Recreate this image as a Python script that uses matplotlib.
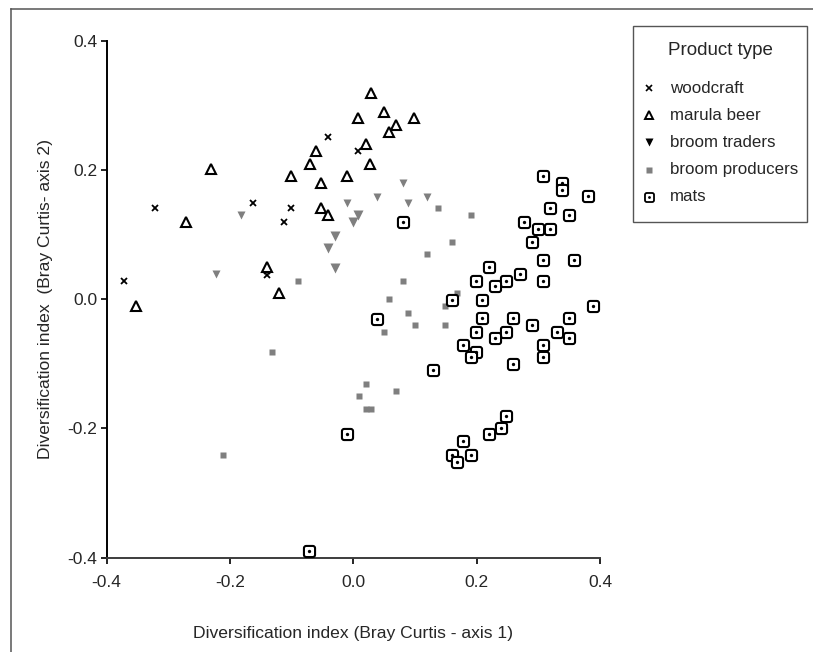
import matplotlib
matplotlib.use("Agg")
import matplotlib.pyplot as plt
from matplotlib.path import Path
from matplotlib.lines import Line2D
from matplotlib.patches import Rectangle

plt.rcParams['font.family'] = ['Liberation Sans', 'DejaVu Sans']

# ---- ordination scores (Bray Curtis axis 1, axis 2) per product type ----
woodcraft_x = [-0.0405, 0.0082, -0.3219, -0.1620, -0.1009, -0.1128, -0.1403, -0.1403, -0.3716]
woodcraft_y = [0.2505, 0.2298, 0.1407, 0.1484, 0.1407, 0.1195, 0.0444, 0.0382, 0.0282]

marula_x = [0.0283, 0.0498, 0.0082, 0.0989, 0.0693, 0.0584, 0.0202, -0.0604, -0.0706, 0.0276,
            -0.2306, -0.1014, -0.0101, -0.0518, -0.0518, -0.0405, -0.2716, -0.1403, -0.1204, -0.3517]
marula_y = [0.3186, 0.2901, 0.2799, 0.2799, 0.2691, 0.2592, 0.2402, 0.2298, 0.2092, 0.2092,
            0.2010, 0.1906, 0.1906, 0.1803, 0.1416, 0.1308, 0.1199, 0.0498, 0.0101, -0.0105]

traders_x = [0.0801, 0.0385, -0.0101, 0.0882, 0.1190, -0.1812, 0.0085, 0.0001, -0.0296, -0.0405, -0.0296, -0.2225]
traders_y = [0.1793, 0.1586, 0.1484, 0.1484, 0.1586, 0.1300, 0.1303, 0.1195, 0.0978, 0.0797, 0.0483, 0.0385]

producers_x = [-0.0901, 0.0801, 0.0584, 0.0882, 0.1379, 0.1904, 0.1605, 0.1190, 0.1682, 0.1492,
               0.0996, 0.1492, 0.0498, -0.1317, 0.0202, 0.0693, 0.0088, 0.0202, 0.0283, -0.2116]
producers_y = [0.0282, 0.0282, -0.0002, -0.0209, 0.1407, 0.1303, 0.0885, 0.0699, 0.0101, -0.0105,
               -0.0395, -0.0395, -0.0503, -0.0817, -0.1312, -0.1413, -0.1498, -0.1704, -0.1704, -0.2406]

mats_x = [0.3081, 0.3384, 0.3384, 0.3800, 0.3194, 0.3502, 0.2776, 0.3003, 0.3194, 0.2893,
          0.3081, 0.3578, 0.2205, 0.2698, 0.1985, 0.2476, 0.2290, 0.3081, 0.1601, 0.2090,
          0.3886, 0.0385, 0.2090, 0.2589, 0.3502, 0.2894, 0.1982, 0.2479, 0.3299, 0.2290,
          0.3502, 0.1787, 0.3081, 0.1986, 0.1904, 0.3084, 0.2589, 0.1293, 0.0801, -0.0106,
          0.2481, 0.2395, 0.2205, 0.1784, 0.1596, 0.1687, 0.1904, -0.0713]
mats_y = [0.1906, 0.1793, 0.1690, 0.1592, 0.1407, 0.1303, 0.1195, 0.1086, 0.1086, 0.0885,
          0.0602, 0.0602, 0.0494, 0.0385, 0.0286, 0.0286, 0.0209, 0.0286, -0.0005, -0.0005,
          -0.0105, -0.0299, -0.0291, -0.0291, -0.0286, -0.0395, -0.0500, -0.0500, -0.0500, -0.0603,
          -0.0605, -0.0709, -0.0706, -0.0812, -0.0890, -0.0890, -0.0998, -0.1088, 0.1190, -0.2091,
          -0.1807, -0.1988, -0.2091, -0.2194, -0.2411, -0.2515, -0.2411, -0.3901]

# larger symbols for the stacked broom-trader scores
traders_large = [False, False, False, False, False, False, True, True, True, True, True, False]

ticks = [-0.4, -0.2, 0.0, 0.2, 0.4]
tick_labels = ['-0.4', '-0.2', '0.0', '0.2', '0.4']
legend_labels = ['woodcraft', 'marula beer', 'broom traders', 'broom producers', 'mats']

W, H = 813, 652
GREY = '#7f7f7f'


def rounded_square(r=0.4):
    verts = [(-1 + r, -1), (1 - r, -1), (1, -1), (1, -1 + r), (1, 1 - r), (1, 1), (1 - r, 1),
             (-1 + r, 1), (-1, 1), (-1, 1 - r), (-1, -1 + r), (-1, -1), (-1 + r, -1), (-1 + r, -1)]
    codes = [Path.MOVETO, Path.LINETO, Path.CURVE3, Path.CURVE3, Path.LINETO, Path.CURVE3, Path.CURVE3,
             Path.LINETO, Path.CURVE3, Path.CURVE3, Path.LINETO, Path.CURVE3, Path.CURVE3, Path.CLOSEPOLY]
    return Path(verts, codes)


MAT = rounded_square()


def fx(px):
    return px / W


def fy(py):
    return 1 - py / H


fig = plt.figure(figsize=(W / 100, H / 100), dpi=100)
ax = fig.add_axes([fx(106.5), fy(557.7), (600 - 106.5) / W, (557.7 - 40.7) / H])

# ---- scatter layers ----
ax.plot(producers_x, producers_y, ls='none', marker='s', ms=5.0, mfc=GREY, mec='none', clip_on=False, zorder=3)
small_x = [x for x, b in zip(traders_x, traders_large) if not b]
small_y = [y for y, b in zip(traders_y, traders_large) if not b]
big_x = [x for x, b in zip(traders_x, traders_large) if b]
big_y = [y for y, b in zip(traders_y, traders_large) if b]
ax.plot(small_x, small_y, ls='none', marker='v', ms=5.5, mfc=GREY, mec='none', clip_on=False, zorder=3)
ax.plot(big_x, big_y, ls='none', marker='v', ms=7.5, mfc=GREY, mec='none', clip_on=False, zorder=3)
ax.plot(woodcraft_x, woodcraft_y, ls='none', marker='x', ms=5.0, mec='black', mew=1.3, clip_on=False, zorder=4)
ax.plot(marula_x, marula_y, ls='none', marker='^', ms=7.5, mfc='white', mec='black', mew=1.5, clip_on=False, zorder=4)
ax.plot(mats_x, mats_y, ls='none', marker=MAT, ms=8.0, mfc='white', mec='black', mew=1.5, clip_on=False, zorder=5)
ax.plot(mats_x, mats_y, ls='none', marker='o', ms=2.4, mfc='black', mec='none', clip_on=False, zorder=6)

# ---- axes styling ----
ax.set_xlim(-0.4, 0.4)
ax.set_ylim(-0.4, 0.4)
ax.set_xticks(ticks)
ax.set_xticklabels(tick_labels)
ax.set_yticks(ticks)
ax.set_yticklabels(tick_labels)
for side in ('top', 'right'):
    ax.spines[side].set_visible(False)
ax.spines['left'].set_linewidth(1.4)
ax.spines['left'].set_color('black')
ax.spines['bottom'].set_linewidth(1.4)
ax.spines['bottom'].set_color('#3c3c3c')
ax.tick_params(axis='both', direction='out', length=4.3, width=1.2, colors='black',
               labelcolor='#262626', labelsize=12.5)
ax.tick_params(axis='x', pad=8.0)
ax.tick_params(axis='y', pad=2.4)

ax.set_xlabel('Diversification index (Bray Curtis - axis 1)', fontsize=12.6, color='#262626')
ax.set_ylabel('Diversification index  (Bray Curtis- axis 2)', fontsize=12.6, color='#262626')
ax.xaxis.set_label_coords(0.5, -0.133)
ax.yaxis.set_label_coords(-0.109, 0.5)

# ---- outer frame ----
fig.add_artist(Line2D([fx(11), fx(W + 5)], [fy(9), fy(9)], transform=fig.transFigure, color='#555555', lw=1.1))
fig.add_artist(Line2D([fx(11), fx(11)], [fy(9), fy(H + 5)], transform=fig.transFigure, color='#555555', lw=1.1))

# ---- legend ----
fig.add_artist(Rectangle((fx(633), fy(222)), (807 - 633) / W, (222 - 26) / H, transform=fig.transFigure,
                         facecolor='white', edgecolor='#555555', lw=1.0, zorder=10))
fig.text(fx(720), fy(55), 'Product type', ha='center', va='baseline', fontsize=13.5, color='#262626', zorder=11)
handles = [dict(marker='x', ms=4.0, mec='black', mew=1.2, mfc='none'),
           dict(marker='^', ms=6.0, mec='black', mew=1.4, mfc='white'),
           dict(marker='v', ms=6.0, mec='none', mfc='black'),
           dict(marker='s', ms=4.5, mec='none', mfc=GREY),
           dict(marker=MAT, ms=6.5, mec='black', mew=1.3, mfc='white')]
for i, (lab, style) in enumerate(zip(legend_labels, handles)):
    base = 92.7 + 27.1 * i
    fig.add_artist(Line2D([fx(649)], [fy(base - 4.5)], transform=fig.transFigure, ls='none', zorder=11, **style))
    if lab == 'mats':
        fig.add_artist(Line2D([fx(649)], [fy(base - 4.5)], transform=fig.transFigure, ls='none', zorder=12,
                              marker='o', ms=2.0, mfc='black', mec='none'))
    fig.text(fx(670), fy(base), lab, ha='left', va='baseline', fontsize=12.2, color='#262626', zorder=11)

fig.savefig('out.png', dpi=100, facecolor='white')
